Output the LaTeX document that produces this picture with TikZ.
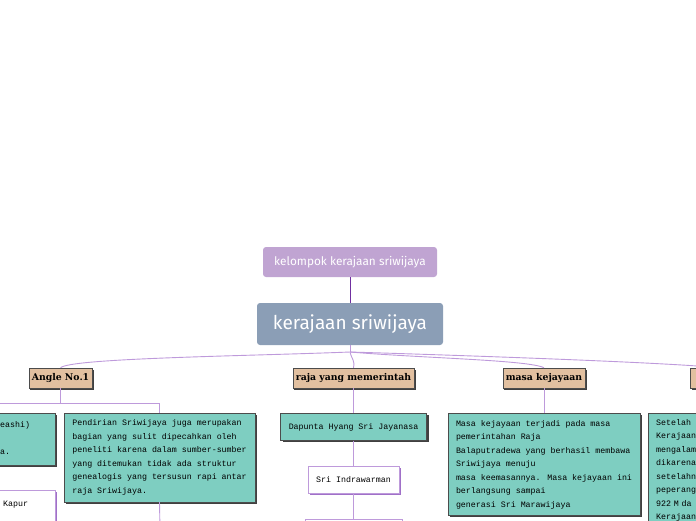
\documentclass[tikz,border=0pt]{standalone}
\usepackage{fontspec}
\newfontfamily\mapfont{Fira Sans}
\newfontfamily\headfont{DejaVu Serif}
\newfontfamily\notefont{Liberation Mono}
\usetikzlibrary{positioning,shadows}
\definecolor{mmlav}{RGB}{192,164,210}
\definecolor{mmslate}{RGB}{139,158,182}
\definecolor{mmteal}{RGB}{126,206,193}
\definecolor{mmtan}{RGB}{226,192,160}
\definecolor{mmline}{RGB}{190,154,219}
\definecolor{mmdark}{RGB}{112,48,160}
\definecolor{mmpurple}{RGB}{160,112,200}

\begin{document}
\begin{tikzpicture}[
  x=1pt, y=-1pt,
  node distance=25pt,
  topic/.style={rounded corners=3pt, fill=#1, text=white, inner sep=0pt, font=\mapfont},
  branch/.style={draw=black!70, fill=mmtan, thin, minimum height=20pt, inner sep=3pt,
    font=\headfont\bfseries\fontsize{9.3}{10}\selectfont,
    drop shadow={shadow xshift=1.5pt, shadow yshift=-1.5pt, fill=black!75, opacity=1}},
  note/.style={draw=black!70, fill=mmteal, thin, align=left, inner xsep=8pt, inner ysep=6pt,
    font=\notefont\fontsize{8.3}{13.5}\selectfont,
    drop shadow={shadow xshift=2pt, shadow yshift=-2pt, fill=black!75, opacity=1}},
  leaf/.style={draw=mmline, fill=white, thin, inner xsep=8pt,
    font=\notefont\fontsize{8.3}{13.5}\selectfont,
    drop shadow={shadow xshift=2pt, shadow yshift=-2pt, fill=mmpurple, opacity=1}},
  notetext/.style={inner sep=0pt, align=left, font=\notefont\fontsize{8.3}{13.5}\selectfont},
  link/.style={draw=mmline, line width=0.9pt},
  stem/.style={draw=mmdark, line width=1pt}
]
\useasboundingbox (0,0) rectangle (696,520);
\clip (0,0) rectangle (696,520);

% central topics
\node[topic=mmlav, minimum width=174pt, minimum height=30pt, font=\mapfont\fontsize{11.8}{13}\selectfont] (kelompok) at (350,262) {kelompok kerajaan sriwijaya};
\node[topic=mmslate, minimum width=186pt, minimum height=42pt, font=\mapfont\fontsize{19}{22}\selectfont] (kerajaan) at (350,324) {kerajaan sriwijaya};
\coordinate (hub) at (350,352);

% main branches
\node[branch] (angle) at (60.5,378) {Angle No.1};
\node[branch] (raja) at (353.5,378) {raja yang memerintah};
\node[branch] (masa) at (544,378) {masa kejayaan};
\node[branch, minimum width=60pt, anchor=west] (runtuh) at (690,378) {};

% Angle No.1
\node[note, minimum width=155pt, minimum height=52pt] (asal) at (-22.5,439) {};
\node[notetext, anchor=west] (asaltext) at (0,438.5) {eashi)\\\\a.};
\node[leaf, minimum width=155pt, minimum height=50pt] (kapur) at (-22.5,515) {};
\node[notetext, anchor=west] (kapurtext) at (3,505) {Kapur};
\node[note, minimum width=191pt, minimum height=89pt] (pendirian) at (159.5,457.5) {Pendirian Sriwijaya juga merupakan\\
bagian yang sulit dipecahkan oleh\\
peneliti karena dalam sumber-sumber\\
yang ditemukan tidak ada struktur\\
genealogis yang tersusun rapi antar\\
raja Sriwijaya.};
\coordinate (pendirianend) at (160,530);

% raja yang memerintah
\node[note, minimum width=146pt, minimum height=27pt, below=of raja] (dapunta) {Dapunta Hyang Sri Jayanasa};
\node[leaf, minimum width=91pt, minimum height=27pt, below=of dapunta] (indra) {Sri Indrawarman};
\node[leaf, minimum width=97pt, minimum height=32pt, below=26pt of indra] (rajanext) {};

% masa kejayaan
\node[note, minimum width=190pt, minimum height=102pt, below=of masa] (jaya) {Masa kejayaan terjadi pada masa\\
pemerintahan Raja\\
Balaputradewa yang berhasil membawa\\
Sriwijaya menuju\\
masa keemasannya. Masa kejayaan ini\\
berlangsung sampai\\
generasi Sri Marawijaya};

% fourth branch
\node[note, anchor=north west, text width=120pt] (setelah) at (648,413) {Setelah\\
Kerajaan\\
mengalam\\
dikarena\\
setelahn\\
peperang\\
922 M da\\
Kerajaan};

% connectors
\draw[stem] (kelompok) -- (kerajaan);
\draw[link] (kerajaan.south) -- (hub);
\draw[link] (hub) .. controls (250,356) and (70,358) .. (angle.north);
\draw[link] (hub) .. controls (352,360) and (355,360) .. (raja.north);
\draw[link] (hub) .. controls (420,358) and (530,360) .. (masa.north);
\draw[link] (hub) .. controls (450,355) and (660,362) .. (runtuh.north);

\draw[link] (angle.south) -- ++(0,15) coordinate (anglefork);
\draw[link] (anglefork) -| (pendirian.north);
\draw[link] (anglefork) -| (asal.north);
\draw[link] (pendirian.south) -- (pendirianend);

\draw[link] (raja) -- (dapunta);
\draw[link] (dapunta) -- (indra);
\draw[link] (indra) -- (rajanext);
\draw[link] (masa) -- (jaya);
\draw[link] (runtuh.south) -- (runtuh.south |- setelah.north);
\end{tikzpicture}
\end{document}
